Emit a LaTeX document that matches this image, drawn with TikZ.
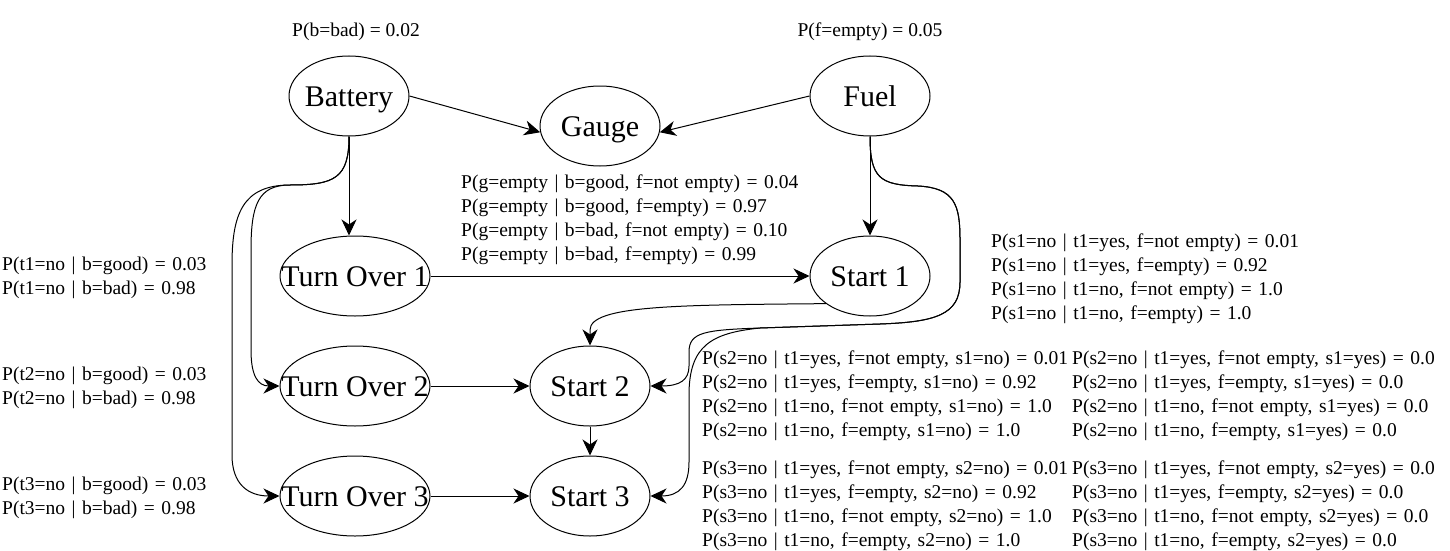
\documentclass[tikz,border=0pt]{standalone}
\usepackage{fontspec}
\setmainfont{Liberation Serif}
\usetikzlibrary{shapes.geometric,arrows.meta}
\begin{document}
\begin{tikzpicture}[x=1pt,y=-1pt,
  state/.style={ellipse,draw,line width=1pt,minimum width=120pt,minimum height=80pt,inner sep=0pt,text height=20pt,text depth=0pt,font=\fontsize{30}{34}\selectfont},
  wide/.style={state,minimum width=150pt},
  tbl/.style={anchor=base west,inner sep=0pt,text width=400pt,align=left,font=\fontsize{19.5}{24}\selectfont},
  lbl/.style={anchor=base,inner sep=0pt,font=\fontsize{19.5}{24}\selectfont},
  edge/.style={line width=1pt,-{Stealth[length=16pt,width=15pt,inset=5pt]}}]
\useasboundingbox[fill=white] (0,0) rectangle (1450,551);

\node[state] (B) at (349,96) {\makebox[0pt]{Battery}};
\node[state] (G) at (600,126) {\makebox[0pt]{Gauge}};
\node[state] (F) at (870,96) {\makebox[0pt]{Fuel}};
\node[wide] (T1) at (355,276) {\makebox[0pt]{Turn Over 1}};
\node[wide] (T2) at (355,386) {\makebox[0pt]{Turn Over 2}};
\node[wide] (T3) at (355,496) {\makebox[0pt]{Turn Over 3}};
\node[state] (S1) at (870,276) {\makebox[0pt]{Start 1}};
\node[state] (S2) at (590,386) {\makebox[0pt]{Start 2}};
\node[state] (S3) at (590,496) {\makebox[0pt]{Start 3}};

\draw[edge] (B.east) -- (G.186);
\draw[edge] (F.west) -- (G.-6);
\draw[edge] (B.south) -- (B.south |- T1.north);
\draw[edge] (F.south) -- (S1.north);
\draw[edge] (T1.east) -- (S1.west);
\draw[edge] (T2.east) -- (S2.west);
\draw[edge] (T3.east) -- (S3.west);
\draw[edge] (S2.south) -- (S3.north);

\draw[edge] (B.south) .. controls (349,178) and (335,185) .. (290,185) .. controls (258,185) and (251,205) .. (251,250) -- (251,350) .. controls (251,376) and (258,386) .. (T2.west);
\draw[edge] (B.south) .. controls (349,178) and (335,185) .. (290,185) .. controls (242,185) and (232,215) .. (232,265) -- (232,455) .. controls (232,484) and (248,496) .. (T3.west);

\draw[edge] (F.south) .. controls (870,178) and (880,185) .. (918,186) .. controls (955,188) and (960,205) .. (960,240) -- (960,282) .. controls (960,315) and (935,322) .. (880,324) -- (760,328) .. controls (705,330) and (689,332) .. (689,352) -- (689,366) .. controls (689,380) and (680,386) .. (S2.east);
\draw[edge] (F.south) .. controls (870,178) and (880,185) .. (918,186) .. controls (955,188) and (960,205) .. (960,240) -- (960,282) .. controls (960,315) and (935,322) .. (880,324) -- (760,328) .. controls (712,333) and (689,345) .. (689,395) -- (689,462) .. controls (689,485) and (680,496) .. (S3.east);

\draw[edge] (S1.212) .. controls (680,305) and (590,305) .. (590,330) -- (S2.north);

\node[lbl] (pb) at (356,37) {P(b=bad) = 0.02};
\node[lbl] (pf) at (870,37) {P(f=empty) = 0.05};
\node[tbl] (pg) at (461,188) {P(g=empty | b=good, f=not empty) = 0.04\\P(g=empty | b=good, f=empty) = 0.97\\P(g=empty | b=bad, f=not empty) = 0.10\\P(g=empty | b=bad, f=empty) = 0.99};
\node[tbl] (pt1) at (2,270) {P(t1=no | b=good) = 0.03\\P(t1=no | b=bad) = 0.98};
\node[tbl] (pt2) at (2,380) {P(t2=no | b=good) = 0.03\\P(t2=no | b=bad) = 0.98};
\node[tbl] (pt3) at (2,490) {P(t3=no | b=good) = 0.03\\P(t3=no | b=bad) = 0.98};
\node[tbl] (ps1) at (991,247) {P(s1=no | t1=yes, f=not empty) = 0.01\\P(s1=no | t1=yes, f=empty) = 0.92\\P(s1=no | t1=no, f=not empty) = 1.0\\P(s1=no | t1=no, f=empty) = 1.0};
\node[tbl] (ps2n) at (702,364) {P(s2=no | t1=yes, f=not empty, s1=no) = 0.01\\P(s2=no | t1=yes, f=empty, s1=no) = 0.92\\P(s2=no | t1=no, f=not empty, s1=no) = 1.0\\P(s2=no | t1=no, f=empty, s1=no) = 1.0};
\node[tbl] (ps2y) at (1072,364) {P(s2=no | t1=yes, f=not empty, s1=yes) = 0.0\\P(s2=no | t1=yes, f=empty, s1=yes) = 0.0\\P(s2=no | t1=no, f=not empty, s1=yes) = 0.0\\P(s2=no | t1=no, f=empty, s1=yes) = 0.0};
\node[tbl] (ps3n) at (702,474) {P(s3=no | t1=yes, f=not empty, s2=no) = 0.01\\P(s3=no | t1=yes, f=empty, s2=no) = 0.92\\P(s3=no | t1=no, f=not empty, s2=no) = 1.0\\P(s3=no | t1=no, f=empty, s2=no) = 1.0};
\node[tbl] (ps3y) at (1072,474) {P(s3=no | t1=yes, f=not empty, s2=yes) = 0.0\\P(s3=no | t1=yes, f=empty, s2=yes) = 0.0\\P(s3=no | t1=no, f=not empty, s2=yes) = 0.0\\P(s3=no | t1=no, f=empty, s2=yes) = 0.0};
\end{tikzpicture}
\end{document}
